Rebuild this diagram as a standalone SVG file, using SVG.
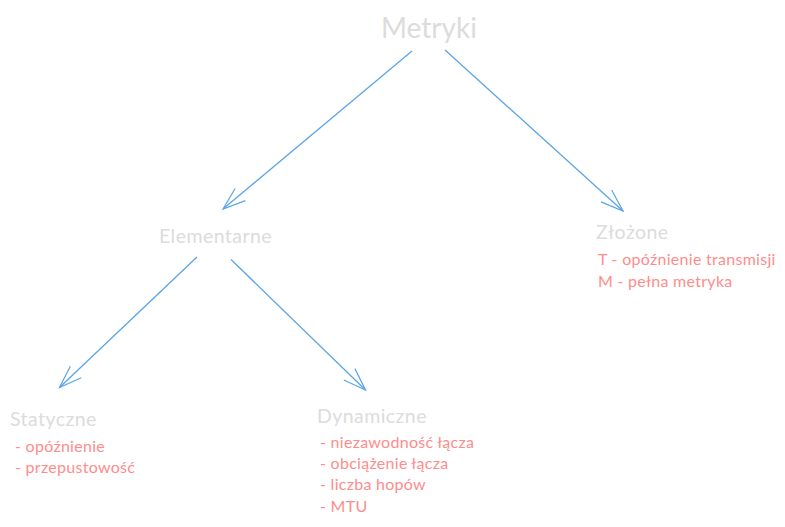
<svg xmlns="http://www.w3.org/2000/svg" width="785" height="527" viewBox="0 0 785 527">
<defs>
<style>
.title{font-family:Lato,"Noto Sans",sans-serif;fill:#dcdcdc}
.sub{font-size:19.5px;letter-spacing:0.45px}
.item{font-family:Lato,"Noto Sans",sans-serif;fill:#ff8c8c;font-size:16px;letter-spacing:0.28px}
.conn{stroke:#5aa5e6;stroke-width:1.3;fill:none;marker-end:url(#ah)}
</style>
<marker id="ah" markerUnits="userSpaceOnUse" orient="auto" markerWidth="30" markerHeight="30" viewBox="-28 -14 32 28" refX="0" refY="0" overflow="visible">
<path d="M-24,-8.5 L0,0 L-24,8.5" fill="none" stroke="#5aa5e6" stroke-width="1.3"/>
</marker>
</defs>
<rect width="785" height="527" fill="#ffffff"/>
<g id="connectors">
<line class="conn" x1="412" y1="51" x2="223" y2="209"/>
<line class="conn" x1="445" y1="50" x2="623" y2="211"/>
<line class="conn" x1="197" y1="257" x2="59.5" y2="387.5"/>
<line class="conn" x1="231" y1="259.5" x2="365.5" y2="390"/>
</g>
<g id="metryki">
<text class="title" x="381" y="38" font-size="28">Metryki</text>
</g>
<g id="elementarne">
<text class="title sub" x="159" y="242.5">Elementarne</text>
</g>
<g id="zlozone">
<text class="title sub" x="596" y="238.5">Złożone</text>
<text class="item" x="598" y="265">T - opóźnienie transmisji</text>
<text class="item" x="598" y="286.5">M - pełna metryka</text>
</g>
<g id="statyczne">
<text class="title sub" x="10" y="425.5">Statyczne</text>
<text class="item" x="15" y="451.5">- opóźnienie</text>
<text class="item" x="15" y="473">- przepustowość</text>
</g>
<g id="dynamiczne">
<text class="title sub" x="317" y="423">Dynamiczne</text>
<text class="item" x="320" y="447.5">- niezawodność łącza</text>
<text class="item" x="320" y="468.5">- obciążenie łącza</text>
<text class="item" x="320" y="490">- liczba hopów</text>
<text class="item" x="320" y="511.5">- MTU</text>
</g>
</svg>
